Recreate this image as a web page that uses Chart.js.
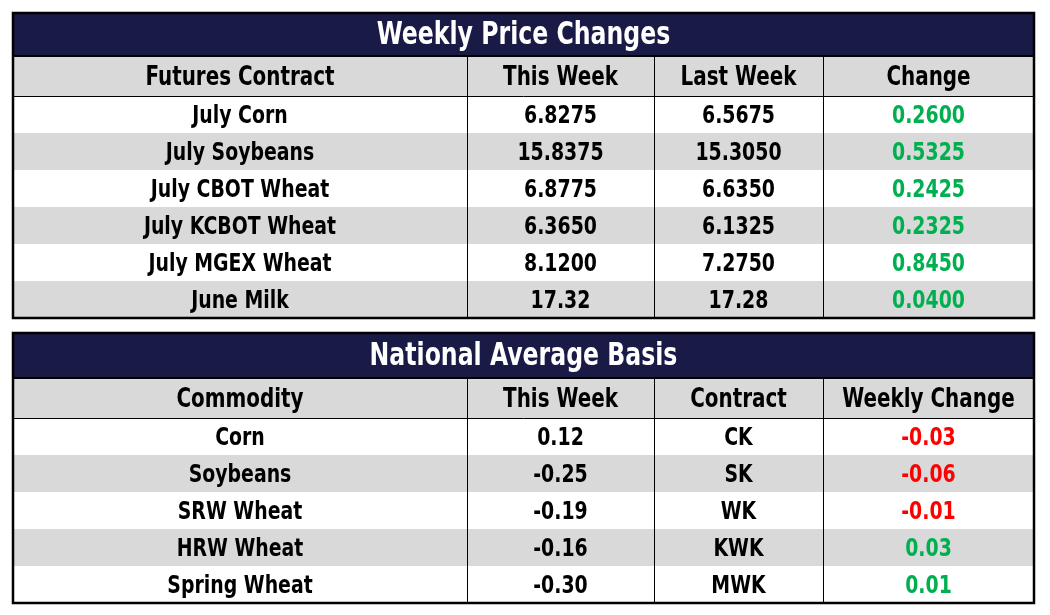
<!DOCTYPE html>
<html lang="en">
<head>
  <meta charset="UTF-8" />
  <title>Weekly Price Changes</title>
  <script src="https://cdn.jsdelivr.net/npm/chart.js"></script>
  <style>
    body { margin: 0; background: #fff; }
    #tbl { display: block; }
  </style>
</head>
<body>
  <canvas id="tbl" width="1050" height="615"></canvas>

  <script>
    // --- data ---
    const priceTitle = 'Weekly Price Changes';
    const priceHeaders = ['Futures Contract', 'This Week', 'Last Week', 'Change'];
    const contracts = ['July Corn', 'July Soybeans', 'July CBOT Wheat', 'July KCBOT Wheat', 'July MGEX Wheat', 'June Milk'];
    const thisWeek = [6.8275, 15.8375, 6.8775, 6.3650, 8.1200, 17.32];
    const lastWeek = [6.5675, 15.3050, 6.6350, 6.1325, 7.2750, 17.28];
    const priceDecimals = [4, 4, 4, 4, 4, 2];
    const change = [0.2600, 0.5325, 0.2425, 0.2325, 0.8450, 0.0400];

    const basisTitle = 'National Average Basis';
    const basisHeaders = ['Commodity', 'This Week', 'Contract', 'Weekly Change'];
    const commodities = ['Corn', 'Soybeans', 'SRW Wheat', 'HRW Wheat', 'Spring Wheat'];
    const basisThisWeek = [0.12, -0.25, -0.19, -0.16, -0.30];
    const basisContracts = ['CK', 'SK', 'WK', 'KWK', 'MWK'];
    const basisChange = [-0.03, -0.06, -0.01, 0.03, 0.01];

    // --- layout (scale units) ---
    const colEdges = [13, 467, 654, 823, 1034];
    const FONT = '"Liberation Sans Narrow", "DejaVu Sans Condensed", "Roboto", sans-serif';
    const NAVY = '#1a1a47', GREY = '#d9d9d9', GREEN = '#00b050', RED = '#ff0000';
    const SQUEEZE = 0.84; // reference font is narrower than anything installed

    const fmt = (v, d) => v.toFixed(d);
    const signColor = v => (v < 0 ? RED : GREEN);

    const tables = [
      {
        top: 13, titleH: 43, headH: 40, rowH: 37,
        title: priceTitle, headers: priceHeaders,
        rows: contracts.map((c, i) => [
          { t: c }, { t: fmt(thisWeek[i], priceDecimals[i]) },
          { t: fmt(lastWeek[i], priceDecimals[i]) },
          { t: fmt(change[i], 4), c: signColor(change[i]) }
        ])
      },
      {
        top: 333, titleH: 45, headH: 40, rowH: 37,
        title: basisTitle, headers: basisHeaders,
        rows: commodities.map((c, i) => [
          { t: c }, { t: fmt(basisThisWeek[i], 2) }, { t: basisContracts[i] },
          { t: fmt(basisChange[i], 2), c: signColor(basisChange[i]) }
        ])
      }
    ];

    function squeezedText(ctx, text, x, y, k) {
      ctx.save();
      ctx.translate(x, y);
      ctx.scale(k || SQUEEZE, 1);
      ctx.fillText(text, 0, 0);
      ctx.restore();
    }

    const tablePlugin = {
      id: 'tablePlugin',
      afterDraw(chart) {
        const ctx = chart.ctx;
        const sx = chart.scales.x, sy = chart.scales.y;
        const px = v => sx.getPixelForValue(v);
        const py = v => sy.getPixelForValue(v);
        const L = px(colEdges[0]), R = px(colEdges[colEdges.length - 1]);

        ctx.save();
        ctx.textAlign = 'center';
        ctx.textBaseline = 'middle';

        tables.forEach(tb => {
          const yTitle = tb.top, yHead = tb.top + tb.titleH, yBody = yHead + tb.headH;
          const yEnd = yBody + tb.rows.length * tb.rowH;

          // title band
          ctx.fillStyle = NAVY;
          ctx.fillRect(L, py(yTitle), R - L, py(yHead) - py(yTitle));
          ctx.fillStyle = '#fff';
          ctx.font = 'bold 32px ' + FONT;
          squeezedText(ctx, tb.title, (L + R) / 2, (py(yTitle) + py(yHead)) / 2 + 1, 0.82);

          // header band
          ctx.fillStyle = GREY;
          ctx.fillRect(L, py(yHead), R - L, py(yBody) - py(yHead));

          // body stripes
          tb.rows.forEach((row, r) => {
            const y0 = py(yBody + r * tb.rowH), y1 = py(yBody + (r + 1) * tb.rowH);
            ctx.fillStyle = r % 2 ? GREY : '#fff';
            ctx.fillRect(L, y0, R - L, y1 - y0);
          });

          // text
          ctx.font = 'bold 27px ' + FONT;
          tb.headers.forEach((h, c) => {
            ctx.fillStyle = '#000';
            squeezedText(ctx, h, (px(colEdges[c]) + px(colEdges[c + 1])) / 2, (py(yHead) + py(yBody)) / 2 + 2, 0.82);
          });
          ctx.font = 'bold 25px ' + FONT;
          tb.rows.forEach((row, r) => {
            const yc = (py(yBody + r * tb.rowH) + py(yBody + (r + 1) * tb.rowH)) / 2 + 2;
            row.forEach((cell, c) => {
              ctx.fillStyle = cell.c || '#000';
              squeezedText(ctx, cell.t, (px(colEdges[c]) + px(colEdges[c + 1])) / 2, yc);
            });
          });

          // grid lines
          ctx.strokeStyle = '#000';
          ctx.lineWidth = 1;
          ctx.beginPath();
          for (let c = 1; c < colEdges.length - 1; c++) {
            const x = Math.round(px(colEdges[c])) + 0.5;
            ctx.moveTo(x, py(yHead));
            ctx.lineTo(x, py(yEnd));
          }
          ctx.moveTo(L, Math.round(py(yBody)) + 0.5);
          ctx.lineTo(R, Math.round(py(yBody)) + 0.5);
          ctx.stroke();

          ctx.lineWidth = 2;
          ctx.beginPath();
          ctx.moveTo(L, py(yHead));
          ctx.lineTo(R, py(yHead));
          ctx.stroke();

          ctx.lineWidth = 2.5;
          ctx.strokeRect(L, py(yTitle), R - L, py(yEnd) - py(yTitle));
        });
        ctx.restore();
      }
    };

    new Chart(document.getElementById('tbl').getContext('2d'), {
      type: 'scatter',
      data: { datasets: [{ data: [] }] },
      options: {
        responsive: false,
        animation: false,
        layout: { padding: 0 },
        plugins: { legend: { display: false }, tooltip: { enabled: false } },
        scales: {
          x: { type: 'linear', min: 0, max: 1050, display: false },
          y: { type: 'linear', min: 0, max: 615, reverse: true, display: false }
        }
      },
      plugins: [tablePlugin]
    });
  </script>
</body>
</html>
